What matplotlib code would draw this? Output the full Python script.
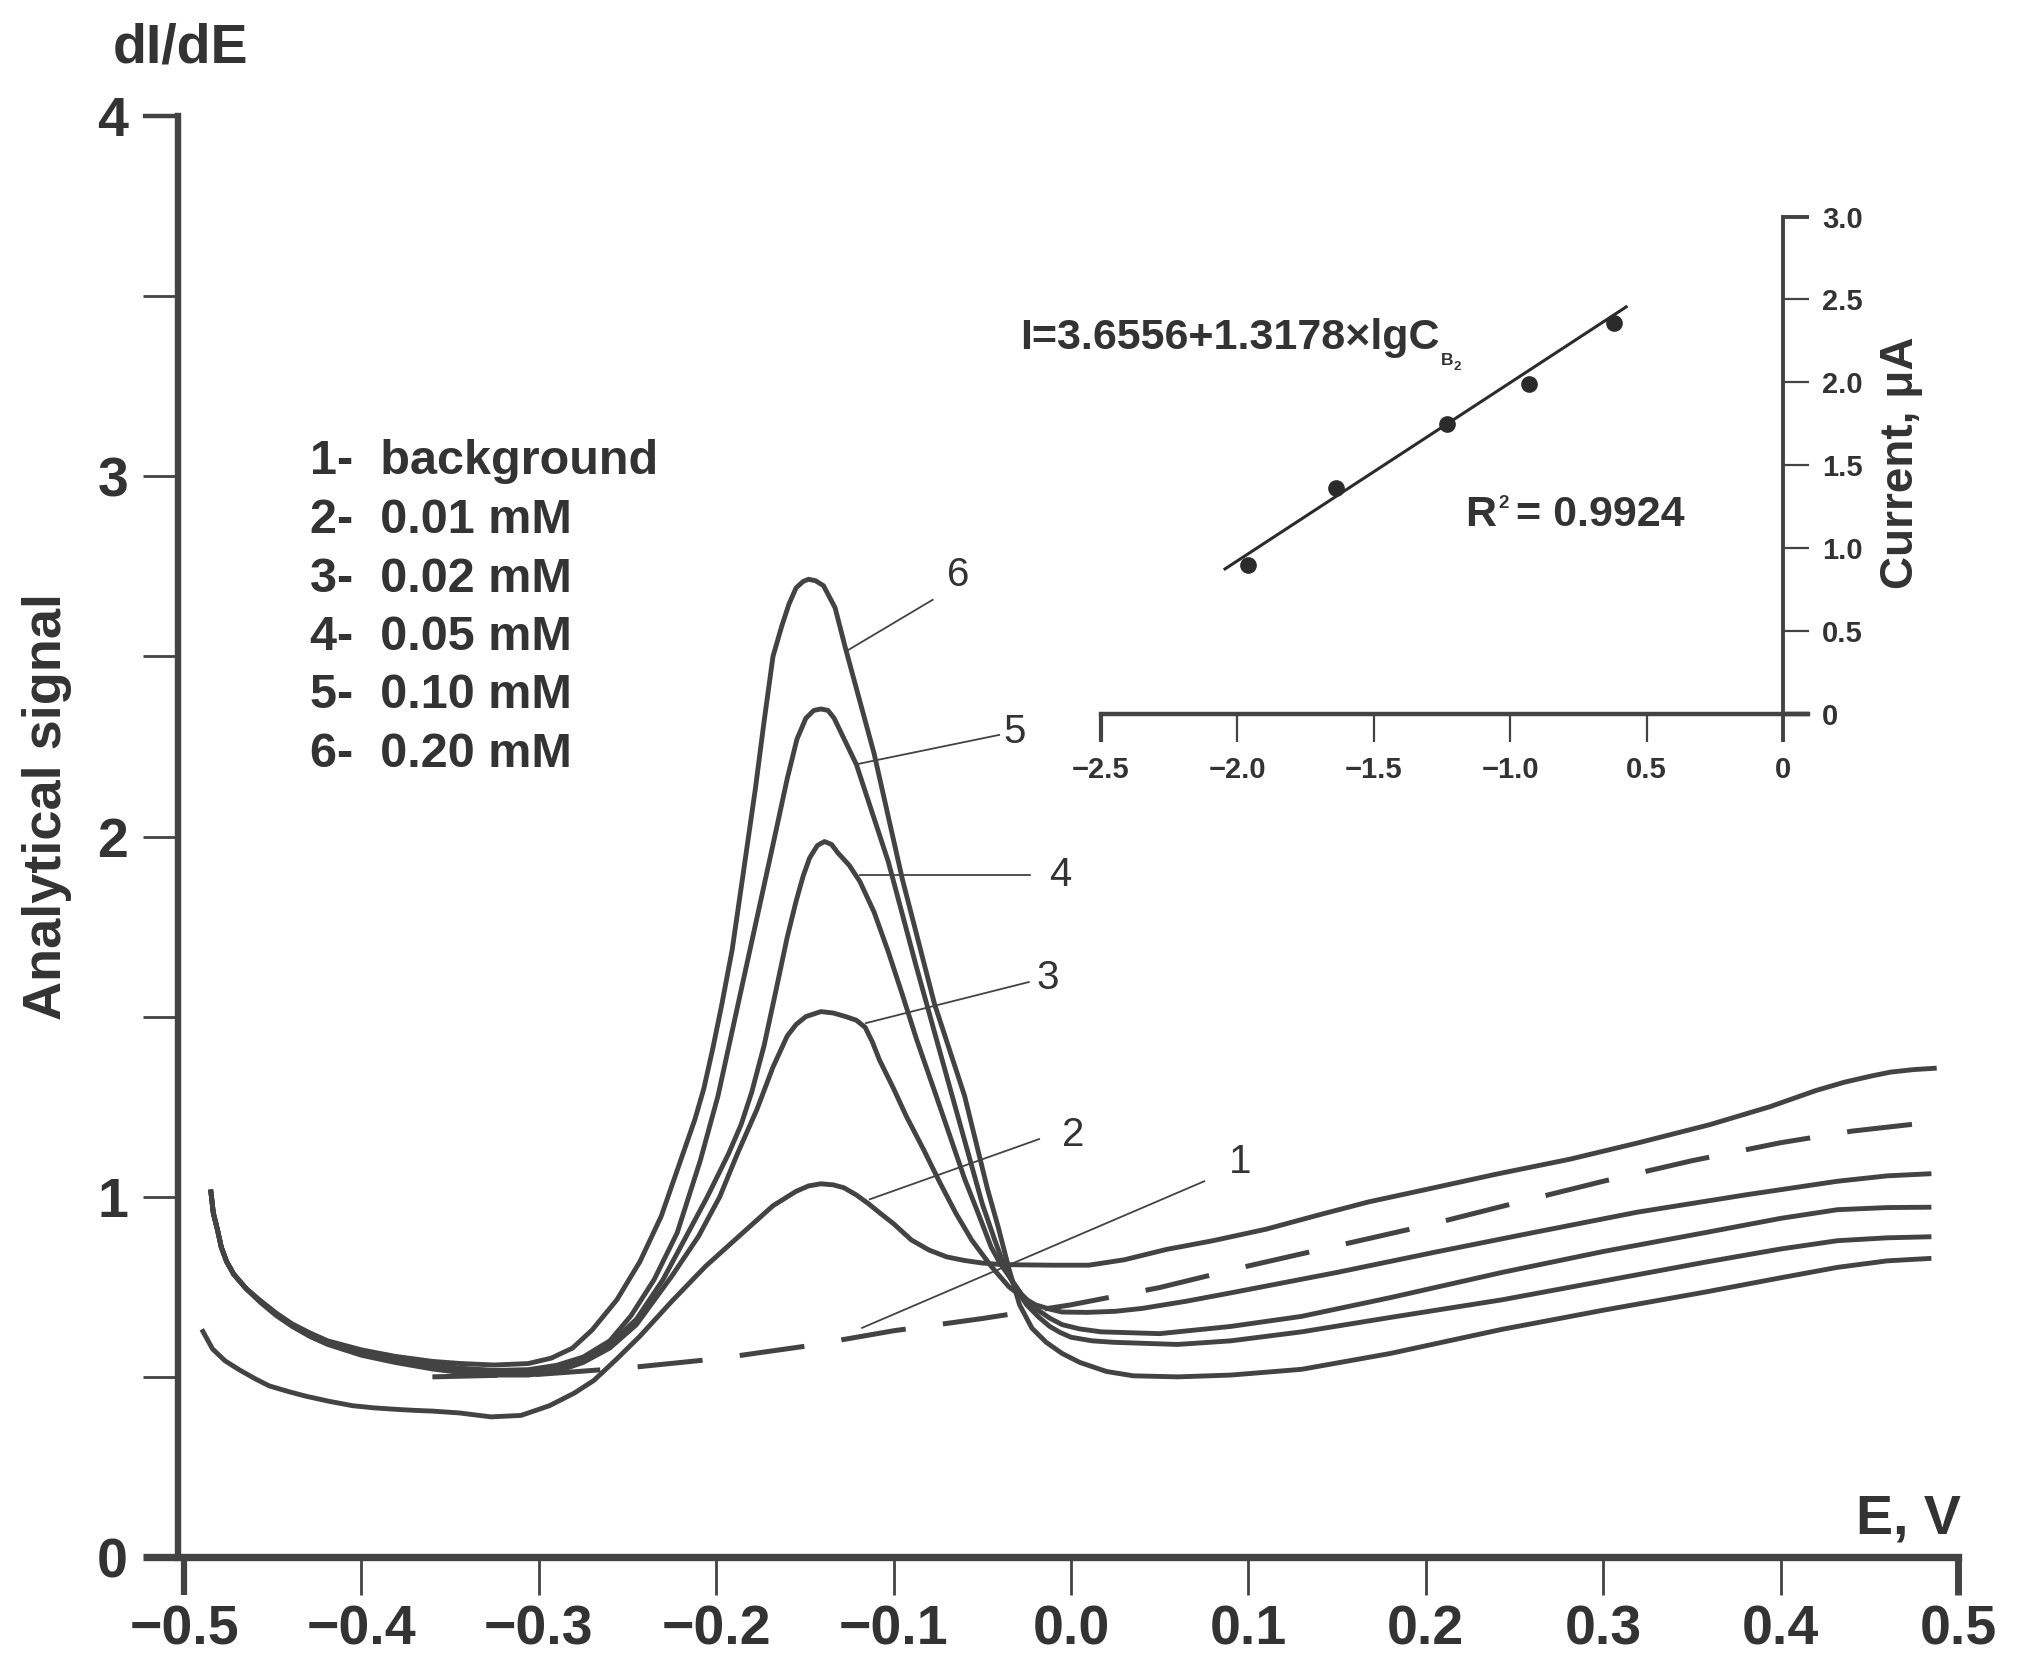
import matplotlib
matplotlib.use("Agg")
import matplotlib.pyplot as plt
from matplotlib import font_manager as fm

# ---------------- main panel data: potential E (V) vs analytical signal dI/dE ----------------
# curve 1: background (dashed)
E_bg = [-0.36, -0.30, -0.25, -0.20, -0.15, -0.10, -0.05, 0.00, 0.05, 0.10, 0.15, 0.20,
        0.25, 0.30, 0.35, 0.40, 0.44, 0.485]
S_bg = [0.500, 0.507, 0.525, 0.550, 0.585, 0.628, 0.662, 0.700, 0.748, 0.808, 0.864, 0.920,
        0.982, 1.043, 1.100, 1.150, 1.182, 1.207]

# curve 2: 0.01 mM
E_c2 = [-0.490, -0.484, -0.477, -0.469, -0.460, -0.452, -0.441, -0.431, -0.418, -0.405,
        -0.393, -0.381, -0.370, -0.360, -0.345, -0.327, -0.310, -0.294, -0.280, -0.269,
        -0.256, -0.243, -0.225, -0.206, -0.185, -0.168, -0.155, -0.148, -0.141, -0.134,
        -0.128, -0.121, -0.114, -0.107, -0.100, -0.090, -0.080, -0.070, -0.060, -0.050,
        -0.040, -0.029, -0.010, 0.010, 0.030, 0.054, 0.080, 0.110, 0.140, 0.168,
        0.200, 0.240, 0.281, 0.320, 0.360, 0.394, 0.420, 0.436, 0.451, 0.462,
        0.475, 0.488]
S_c2 = [0.632, 0.578, 0.545, 0.520, 0.495, 0.475, 0.459, 0.446, 0.432, 0.420,
        0.414, 0.410, 0.407, 0.405, 0.400, 0.389, 0.393, 0.420, 0.455, 0.490,
        0.550, 0.613, 0.710, 0.807, 0.900, 0.975, 1.015, 1.030, 1.036, 1.033,
        1.025, 1.005, 0.980, 0.952, 0.925, 0.880, 0.852, 0.833, 0.823, 0.816,
        0.812, 0.811, 0.810, 0.810, 0.825, 0.854, 0.878, 0.910, 0.950, 0.986,
        1.020, 1.063, 1.104, 1.150, 1.200, 1.250, 1.295, 1.318, 1.335, 1.346,
        1.353, 1.357]

# curve 3: 0.02 mM
E_c3 = [-0.485, -0.4835, -0.481, -0.479, -0.476, -0.472, -0.465, -0.457, -0.448, -0.439,
        -0.429, -0.419, -0.400, -0.381, -0.360, -0.344, -0.325, -0.306, -0.290, -0.275,
        -0.260, -0.245, -0.225, -0.210, -0.198, -0.188, -0.177, -0.168, -0.160, -0.155,
        -0.1495, -0.141, -0.134, -0.127, -0.121, -0.116, -0.112, -0.108, -0.100, -0.093,
        -0.083, -0.074, -0.065, -0.056, -0.045, -0.035, -0.027, -0.020, -0.012, -0.005,
        0.009, 0.025, 0.040, 0.065, 0.092, 0.150, 0.205, 0.260, 0.319, 0.380,
        0.432, 0.460, 0.485]
S_c3 = [1.020, 0.955, 0.905, 0.860, 0.820, 0.785, 0.745, 0.707, 0.670, 0.640,
        0.612, 0.590, 0.560, 0.540, 0.522, 0.512, 0.505, 0.505, 0.515, 0.540,
        0.580, 0.645, 0.780, 0.890, 1.000, 1.120, 1.243, 1.360, 1.446, 1.478,
        1.500, 1.514, 1.510, 1.500, 1.490, 1.470, 1.430, 1.380, 1.300, 1.225,
        1.130, 1.040, 0.955, 0.880, 0.807, 0.750, 0.720, 0.700, 0.688, 0.680,
        0.679, 0.682, 0.690, 0.710, 0.735, 0.790, 0.846, 0.900, 0.957, 1.005,
        1.043, 1.058, 1.064]

# curve 4: 0.05 mM
E_c4 = [-0.485, -0.4835, -0.481, -0.479, -0.476, -0.472, -0.465, -0.457, -0.448, -0.439,
        -0.429, -0.419, -0.400, -0.381, -0.360, -0.344, -0.325, -0.306, -0.290, -0.275,
        -0.260, -0.245, -0.230, -0.218, -0.205, -0.193, -0.186, -0.180, -0.173, -0.166,
        -0.160, -0.155, -0.151, -0.1474, -0.143, -0.139, -0.135, -0.1315, -0.125, -0.119,
        -0.111, -0.103, -0.095, -0.087, -0.076, -0.068, -0.060, -0.052, -0.045, -0.040,
        -0.035, -0.028, -0.020, -0.012, -0.005, 0.005, 0.017, 0.050, 0.090, 0.130,
        0.180, 0.243, 0.300, 0.357, 0.400, 0.432, 0.460, 0.485]
S_c4 = [1.020, 0.955, 0.905, 0.860, 0.820, 0.785, 0.745, 0.709, 0.673, 0.643,
        0.616, 0.594, 0.565, 0.545, 0.528, 0.518, 0.512, 0.512, 0.522, 0.545,
        0.590, 0.660, 0.770, 0.880, 1.000, 1.120, 1.200, 1.290, 1.420, 1.580,
        1.720, 1.820, 1.890, 1.940, 1.975, 1.986, 1.978, 1.955, 1.920, 1.875,
        1.790, 1.680, 1.560, 1.436, 1.280, 1.165, 1.050, 0.950, 0.860, 0.815,
        0.780, 0.730, 0.690, 0.663, 0.645, 0.633, 0.625, 0.620, 0.640, 0.668,
        0.720, 0.790, 0.848, 0.900, 0.940, 0.964, 0.970, 0.971]

# curve 5: 0.10 mM
E_c5 = [-0.485, -0.4835, -0.481, -0.479, -0.476, -0.472, -0.465, -0.457, -0.448, -0.439,
        -0.429, -0.419, -0.400, -0.381, -0.360, -0.344, -0.325, -0.306, -0.290, -0.275,
        -0.260, -0.248, -0.235, -0.222, -0.209, -0.199, -0.191, -0.183, -0.175, -0.167,
        -0.160, -0.1545, -0.1495, -0.145, -0.141, -0.137, -0.1335, -0.121, -0.103, -0.087,
        -0.067, -0.050, -0.043, -0.037, -0.031, -0.025, -0.018, -0.012, -0.006, 0.000,
        0.012, 0.024, 0.060, 0.090, 0.130, 0.180, 0.243, 0.300, 0.357, 0.400,
        0.432, 0.460, 0.485]
S_c5 = [1.020, 0.955, 0.905, 0.860, 0.820, 0.785, 0.745, 0.710, 0.675, 0.645,
        0.619, 0.597, 0.568, 0.550, 0.533, 0.524, 0.518, 0.520, 0.532, 0.555,
        0.600, 0.670, 0.770, 0.900, 1.100, 1.280, 1.460, 1.640, 1.820, 2.000,
        2.160, 2.270, 2.328, 2.350, 2.354, 2.350, 2.328, 2.200, 1.930, 1.635,
        1.280, 0.980, 0.880, 0.800, 0.745, 0.700, 0.665, 0.640, 0.623, 0.610,
        0.600, 0.596, 0.590, 0.600, 0.625, 0.665, 0.714, 0.766, 0.818, 0.855,
        0.878, 0.886, 0.889]

# curve 6: 0.20 mM
E_c6 = [-0.485, -0.4835, -0.481, -0.479, -0.476, -0.472, -0.465, -0.457, -0.448, -0.439,
        -0.429, -0.419, -0.400, -0.381, -0.360, -0.344, -0.325, -0.306, -0.293, -0.281,
        -0.270, -0.256, -0.243, -0.231, -0.218, -0.212, -0.207, -0.202, -0.197, -0.191,
        -0.185, -0.178, -0.173, -0.168, -0.163, -0.159, -0.155, -0.151, -0.148, -0.144,
        -0.1395, -0.133, -0.127, -0.111, -0.095, -0.077, -0.060, -0.047, -0.041, -0.035,
        -0.029, -0.022, -0.014, -0.005, 0.005, 0.020, 0.035, 0.060, 0.090, 0.130,
        0.180, 0.243, 0.300, 0.357, 0.400, 0.432, 0.460, 0.485]
S_c6 = [1.020, 0.955, 0.905, 0.860, 0.820, 0.785, 0.745, 0.712, 0.677, 0.647,
        0.622, 0.600, 0.575, 0.557, 0.543, 0.537, 0.533, 0.537, 0.552, 0.580,
        0.630, 0.714, 0.820, 0.946, 1.130, 1.215, 1.300, 1.410, 1.530, 1.686,
        1.890, 2.130, 2.320, 2.500, 2.585, 2.645, 2.690, 2.708, 2.714, 2.710,
        2.696, 2.635, 2.520, 2.230, 1.880, 1.536, 1.280, 1.020, 0.915, 0.800,
        0.700, 0.635, 0.596, 0.565, 0.540, 0.515, 0.503, 0.500, 0.505, 0.521,
        0.565, 0.632, 0.685, 0.735, 0.775, 0.804, 0.822, 0.829]

legend_lines = ["1-  background", "2-  0.01 mM", "3-  0.02 mM",
                "4-  0.05 mM", "5-  0.10 mM", "6-  0.20 mM"]
curve_numbers = ["1", "2", "3", "4", "5", "6"]

x_ticks = [-0.5, -0.4, -0.3, -0.2, -0.1, 0.0, 0.1, 0.2, 0.3, 0.4, 0.5]
x_ticklabels = ["\u22120.5", "\u22120.4", "\u22120.3", "\u22120.2", "\u22120.1",
                "0.0", "0.1", "0.2", "0.3", "0.4", "0.5"]
y_major = [0, 1, 2, 3, 4]
y_major_labels = ["0", "1", "2", "3", "4"]
y_minor = [0.5, 1.5, 2.5, 3.5]

# ---------------- inset data: calibration ----------------
lgC = [-1.96, -1.64, -1.23, -0.93, -0.62]
current_uA = [0.90, 1.36, 1.75, 1.99, 2.36]
fit_x = [-2.05, -0.57]
fit_y = [0.87, 2.46]
inset_xticks = [-2.5, -2.0, -1.5, -1.0, -0.5, 0.0]
inset_xticklabels = ["\u22122.5", "\u22122.0", "\u22121.5", "\u22121.0", "0.5", "0"]
inset_yticks = [0.0, 0.5, 1.0, 1.5, 2.0, 2.5, 3.0]
inset_yticklabels = ["0", "0.5", "1.0", "1.5", "2.0", "2.5", "3.0"]

# ---------------- styling ----------------
names = {f.name for f in fm.fontManager.ttflist}
FONT = "Liberation Sans" if "Liberation Sans" in names else "DejaVu Sans"
plt.rcParams["font.family"] = [FONT, "DejaVu Sans"]
plt.rcParams["lines.scale_dashes"] = False
INK = "#434343"
TXT = "#333333"

W, H = 2019, 1680
fig = plt.figure(figsize=(W / 100, H / 100), dpi=100, facecolor="white")


def fx(px):
    return px / W


def fy(py_top):
    return 1 - py_top / H


# ---------------- main axes ----------------
ax = fig.add_axes([fx(178), fy(1557), (1958 - 178) / W, (1557 - 116) / H])
ax.set_xlim(-0.5034, 0.5)
ax.set_ylim(0, 4)
for s in ("top", "right"):
    ax.spines[s].set_visible(False)
ax.spines["left"].set_linewidth(4.6)
ax.spines["bottom"].set_linewidth(5.3)
for s in ("left", "bottom"):
    ax.spines[s].set_color(INK)
    ax.spines[s].set_capstyle("projecting")

curve_kw = dict(color=INK, lw=3.5, solid_joinstyle="round", solid_capstyle="butt", zorder=3)
ax.plot(E_bg, S_bg, linestyle=(0, (47, 27)), color=INK, lw=3.6, zorder=2)
for E, S in [(E_c2, S_c2), (E_c3, S_c3), (E_c4, S_c4), (E_c5, S_c5), (E_c6, S_c6)]:
    ax.plot(E, S, **curve_kw)

ax.set_xticks(x_ticks)
ax.set_xticklabels(x_ticklabels, fontsize=40, fontweight="bold", color=TXT)
ax.set_yticks(y_major)
ax.set_yticklabels(y_major_labels, fontsize=40, fontweight="bold", color=TXT)
ax.set_yticks(y_minor, minor=True)
ax.tick_params(axis="x", direction="out", length=27, width=2.0, pad=7, color=INK)
ax.tick_params(axis="y", which="both", direction="out", length=25, width=2.0, pad=11, color=INK)
xt = ax.xaxis.get_major_ticks()
xt[0].tick1line.set_markeredgewidth(4.5)
xt[-1].tick1line.set_markeredgewidth(5.0)
yt = ax.yaxis.get_major_ticks()
yt[0].tick1line.set_markeredgewidth(5.3)
yt[-1].tick1line.set_markeredgewidth(3.2)

# curve number leader lines (data coords)
leaders = [
    ((-0.1178, 0.636), (0.0751, 1.043), (0.0954, 1.096)),
    ((-0.1134, 0.993), (-0.018, 1.160), (0.0014, 1.171)),
    ((-0.1156, 1.482), (-0.0238, 1.596), (-0.013, 1.607)),
    ((-0.1192, 1.893), (-0.0231, 1.893), (-0.0058, 1.893)),
    ((-0.1214, 2.200), (-0.0405, 2.282), (-0.0318, 2.289)),
    ((-0.1265, 2.515), (-0.078, 2.657), (-0.0636, 2.725)),
]
for num, (p0, p1, pt) in zip(curve_numbers, leaders):
    ax.plot([p0[0], p1[0]], [p0[1], p1[1]], color=INK, lw=1.3, zorder=4)
    ax.text(pt[0], pt[1], num, fontsize=29, color=TXT, ha="center", va="center")

# legend block
for i, line in enumerate(legend_lines):
    fig.text(fx(310), fy(474.5 + 58.5 * i), line, fontsize=35, fontweight="bold",
             color=TXT, ha="left", va="baseline")

fig.text(fx(180), fy(62), "dI/dE", fontsize=40, fontweight="bold", color=TXT,
         ha="center", va="baseline")
fig.text(fx(47), fy(806), "Analytical signal", fontsize=39, fontweight="bold", color=TXT,
         ha="center", va="center", rotation=90)
fig.text(fx(1961), fy(1533), "E, V", fontsize=40, fontweight="bold", color=TXT,
         ha="right", va="baseline")

# ---------------- inset ----------------
unit_x = (1783 - 1101) / 2.5
ins = fig.add_axes([fx(1101), fy(714), 2.59 * unit_x / W, (714 - 216.5) / H])
ins.set_xlim(-2.5, 0.09)
ins.set_ylim(0, 3)
ins.patch.set_alpha(0)
ins.spines["left"].set_visible(False)
ins.spines["top"].set_visible(False)
ins.spines["right"].set_position(("data", 0))
ins.spines["right"].set_linewidth(2.8)
ins.spines["bottom"].set_linewidth(3.2)
for s in ("right", "bottom"):
    ins.spines[s].set_color(INK)
ins.yaxis.set_ticks_position("right")
ins.xaxis.set_ticks_position("bottom")
ins.set_xticks(inset_xticks)
ins.set_xticklabels(inset_xticklabels, fontsize=21, fontweight="bold", color=TXT)
ins.set_yticks(inset_yticks)
ins.set_yticklabels(inset_yticklabels, fontsize=21, fontweight="bold", color=TXT)
ins.tick_params(axis="x", direction="out", length=20, width=1.6, pad=10, color=INK)
ins.tick_params(axis="y", direction="out", length=19, width=1.6, pad=9, color=INK)
it = ins.xaxis.get_major_ticks()
it[0].tick1line.set_markeredgewidth(3.0)
it[-1].tick1line.set_markeredgewidth(2.8)
iy = ins.yaxis.get_major_ticks()
iy[-1].tick2line.set_markeredgewidth(2.8)
iy[0].tick2line.set_markeredgewidth(3.2)

ins.plot(fit_x, fit_y, color="#2b2b2b", lw=2.2, solid_capstyle="butt", clip_on=False)
ins.plot(lgC, current_uA, "o", ms=11, color="#2b2b2b", clip_on=False)

fig.text(fx(1901), fy(463), "Current, \u03bcA", fontsize=33, fontweight="bold", color=TXT,
         ha="center", va="center", rotation=90)

# regression equation with subscript, R^2 with superscript
eq = fig.text(fx(1020), fy(349), "I=3.6556+1.3178\u00d7lgC", fontsize=31, fontweight="bold",
              color=TXT, ha="left", va="baseline")
r2 = fig.text(fx(1465), fy(526), "R", fontsize=31, fontweight="bold", color=TXT,
              ha="left", va="baseline")
fig.canvas.draw()
rend = fig.canvas.get_renderer()
bb = eq.get_window_extent(rend)
sb = fig.text((bb.x1 + 1) / W, fy(365), "B", fontsize=12.5, fontweight="bold", color=TXT,
              ha="left", va="baseline")
bb_b = sb.get_window_extent(rend)
fig.text((bb_b.x1 + 0.5) / W, fy(370), "2", fontsize=9.5, fontweight="bold", color=TXT,
         ha="left", va="baseline")
bb_r = r2.get_window_extent(rend)
s2 = fig.text((bb_r.x1 + 2) / W, fy(508), "2", fontsize=13.5, fontweight="bold", color=TXT,
              ha="left", va="baseline")
bb_s2 = s2.get_window_extent(rend)
fig.text((bb_s2.x1 + 8) / W, fy(526), "= 0.9924", fontsize=31, fontweight="bold", color=TXT,
         ha="left", va="baseline")

fig.savefig("out.png", dpi=100, facecolor="white")
